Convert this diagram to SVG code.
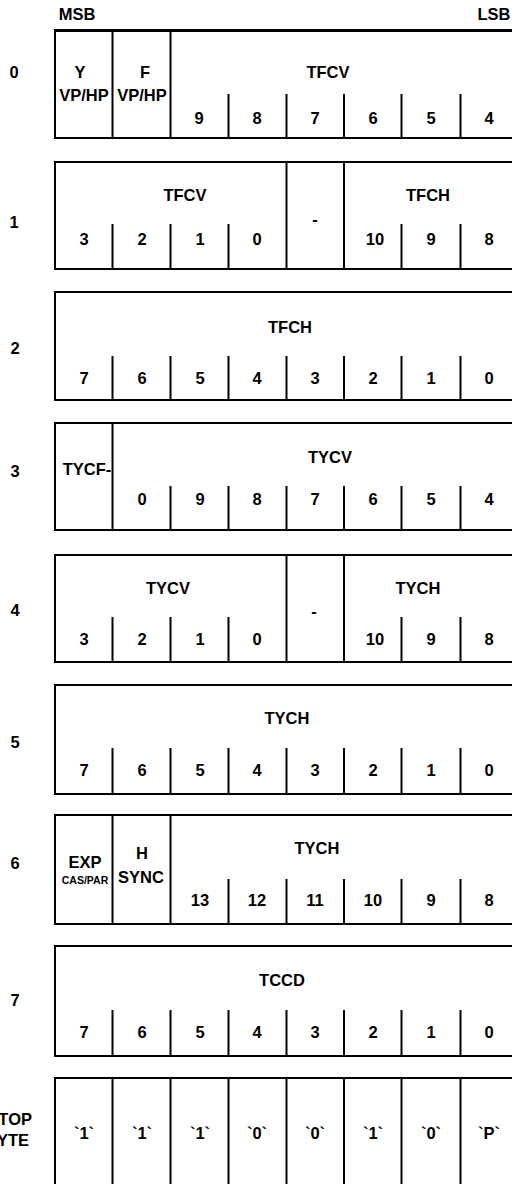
<svg xmlns="http://www.w3.org/2000/svg" width="512" height="1184" viewBox="0 0 512 1184">
<style>
.b{fill:none;stroke:#000;stroke-width:2}
.d{stroke:#000;stroke-width:2}
text{font-family:"Liberation Sans",Arial,sans-serif;font-size:16.5px;font-weight:bold;fill:#000;text-anchor:middle}
.s{font-size:10.5px}
</style>
<rect width="512" height="1184" fill="#fff"/>
<text x="77" y="20">MSB</text>
<text x="494" y="20">LSB</text>
<g id="row0">
<text x="14" y="78">0</text>
<rect class="b" x="55" y="30" width="465" height="108"/>
<path class="d" d="M55 30.5H520" style="stroke-width:3"/>
<path class="d" d="M112.5 30V138M170.5 30V138M228.5 94V138M286.5 94V138M344 94V138M401.5 94V138M460.5 94V138"/>
<text x="80" y="78">Y</text><text x="84" y="101">VP/HP</text>
<text x="145" y="78">F</text><text x="142" y="101">VP/HP</text>
<text x="328" y="78">TFCV</text>
<text x="199" y="124">9</text><text x="257" y="124">8</text><text x="315" y="124">7</text><text x="373" y="124">6</text><text x="431" y="124">5</text><text x="489" y="124">4</text>
</g>
<g id="row1">
<text x="14" y="228">1</text>
<rect class="b" x="55" y="162" width="465" height="107"/>
<path class="d" d="M112.5 224V269M170.5 224V269M228.5 224V269M286.5 162V269M344 162V269M401.5 224V269M460.5 224V269"/>
<text x="185" y="201">TFCV</text><text x="315" y="225">-</text><text x="428" y="201">TFCH</text>
<text x="84" y="245">3</text><text x="142" y="245">2</text><text x="200" y="245">1</text><text x="257" y="245">0</text><text x="375" y="245">10</text><text x="431" y="245">9</text><text x="489" y="245">8</text>
</g>
<g id="row2">
<text x="15" y="354">2</text>
<rect class="b" x="55" y="292" width="465" height="108"/>
<path class="d" d="M112.5 356V400M170.5 356V400M228.5 356V400M286.5 356V400M344 356V400M401.5 356V400M460.5 356V400"/>
<text x="290" y="333">TFCH</text>
<text x="84" y="384">7</text><text x="142" y="384">6</text><text x="200" y="384">5</text><text x="257" y="384">4</text><text x="315" y="384">3</text><text x="373" y="384">2</text><text x="431" y="384">1</text><text x="489" y="384">0</text>
</g>
<g id="row3">
<text x="15" y="477">3</text>
<rect class="b" x="55" y="423" width="465" height="107"/>
<path class="d" d="M112.5 423V530M170.5 486V530M228.5 486V530M286.5 486V530M344 486V530M401.5 486V530M460.5 486V530"/>
<text x="87" y="475">TYCF-</text>
<text x="330" y="463">TYCV</text>
<text x="142" y="505">0</text><text x="200" y="505">9</text><text x="257" y="505">8</text><text x="315" y="505">7</text><text x="373" y="505">6</text><text x="431" y="505">5</text><text x="489" y="505">4</text>
</g>
<g id="row4">
<text x="15" y="616">4</text>
<rect class="b" x="55" y="555" width="465" height="107"/>
<path class="d" d="M112.5 617V662M170.5 617V662M228.5 617V662M286.5 555V662M344 555V662M401.5 617V662M460.5 617V662"/>
<text x="168" y="594">TYCV</text><text x="314" y="617">-</text><text x="418" y="594">TYCH</text>
<text x="84" y="645">3</text><text x="142" y="645">2</text><text x="200" y="645">1</text><text x="257" y="645">0</text><text x="375" y="645">10</text><text x="431" y="645">9</text><text x="489" y="645">8</text>
</g>
<g id="row5">
<text x="15" y="748">5</text>
<rect class="b" x="55" y="685" width="465" height="109"/>
<path class="d" d="M112.5 748V794M170.5 748V794M228.5 748V794M286.5 748V794M344 748V794M401.5 748V794M460.5 748V794"/>
<text x="287" y="724">TYCH</text>
<text x="84" y="776">7</text><text x="142" y="776">6</text><text x="200" y="776">5</text><text x="257" y="776">4</text><text x="315" y="776">3</text><text x="373" y="776">2</text><text x="431" y="776">1</text><text x="489" y="776">0</text>
</g>
<g id="row6">
<text x="15" y="869">6</text>
<rect class="b" x="55" y="815" width="465" height="109"/>
<path class="d" d="M112.5 815V924M170.5 815V924M228.5 879V924M286.5 879V924M344 879V924M401.5 879V924M460.5 879V924"/>
<text x="85" y="868">EXP</text><text class="s" x="85" y="884">CAS/PAR</text>
<text x="142" y="859">H</text><text x="141" y="883">SYNC</text>
<text x="317" y="854">TYCH</text>
<text x="200" y="906">13</text><text x="257" y="906">12</text><text x="315" y="906">11</text><text x="373" y="906">10</text><text x="431" y="906">9</text><text x="489" y="906">8</text>
</g>
<g id="row7">
<text x="15" y="1006">7</text>
<rect class="b" x="55" y="946" width="465" height="110"/>
<path class="d" d="M112.5 1010V1056M170.5 1010V1056M228.5 1010V1056M286.5 1010V1056M344 1010V1056M401.5 1010V1056M460.5 1010V1056"/>
<text x="282" y="986">TCCD</text>
<text x="84" y="1038">7</text><text x="142" y="1038">6</text><text x="200" y="1038">5</text><text x="257" y="1038">4</text><text x="315" y="1038">3</text><text x="373" y="1038">2</text><text x="431" y="1038">1</text><text x="489" y="1038">0</text>
</g>
<g id="row8">
<text x="32" y="1125" style="text-anchor:end">STOP</text>
<text x="29" y="1146" style="text-anchor:end">BYTE</text>
<rect class="b" x="55" y="1078" width="465" height="120"/>
<path class="d" d="M112.5 1078V1190M170.5 1078V1190M228.5 1078V1190M286.5 1078V1190M344 1078V1190M401.5 1078V1190M460.5 1078V1190"/>
<text x="84" y="1139">`1`</text><text x="142" y="1139">`1`</text><text x="200" y="1139">`1`</text><text x="257" y="1139">`0`</text><text x="315" y="1139">`0`</text><text x="373" y="1139">`1`</text><text x="431" y="1139">`0`</text><text x="489" y="1139">`P`</text>
</g>
</svg>
